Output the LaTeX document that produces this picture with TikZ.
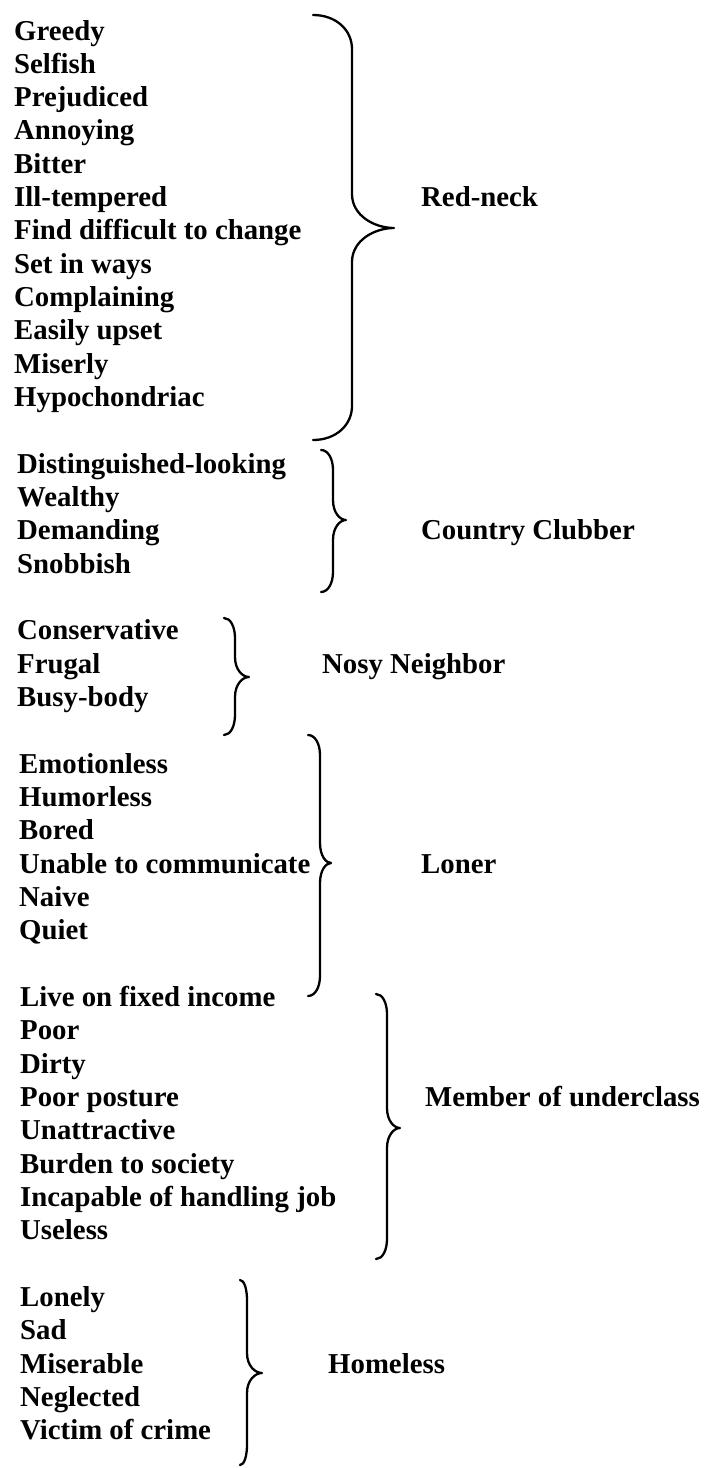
\documentclass[tikz,border=0pt]{standalone}
\usepackage{fontspec}
\setmainfont{Liberation Serif}
\newcommand\mybrace[7]{% xl xv xt ytop ytip ybot r
  \draw[bracestyle] (#1,#4) .. controls (#2-0.4*#2+0.4*#1,#4) and (#2,#4+0.45*#7) .. (#2,#4+#7)
    -- (#2,#5-#7) .. controls (#2,#5-0.35*#7) and (#3-0.45*#3+0.45*#2,#5) .. (#3,#5)
    .. controls (#3-0.45*#3+0.45*#2,#5) and (#2,#5+0.35*#7) .. (#2,#5+#7)
    -- (#2,#6-#7) .. controls (#2,#6-0.45*#7) and (#2-0.4*#2+0.4*#1,#6) .. (#1,#6);}
\begin{document}
\begin{tikzpicture}[x=1pt,y=-1pt,
  item/.style={anchor=base west,inner sep=0pt,font=\fontsize{28.8}{34}\selectfont\bfseries},
  label/.style={anchor=base west,inner sep=0pt,font=\fontsize{28.8}{34}\selectfont\bfseries},
  bracestyle/.style={line width=2.3pt,line cap=round,line join=round}]
\useasboundingbox (0,0) rectangle (704,1468);
% Group 1
\foreach \t [count=\i from 0] in {Greedy,Selfish,Prejudiced,Annoying,Bitter,Ill-tempered,Find difficult to change,Set in ways,Complaining,Easily upset,Miserly,Hypochondriac}
  \node[item] (ra\i) at (14,{40+33.33*\i}) {\t};
\foreach \t [count=\i from 0] in {Distinguished-looking,Wealthy,Demanding,Snobbish}
  \node[item] (cc\i) at (17,{40+33.33*(13+\i)}) {\t};
\foreach \t [count=\i from 0] in {Conservative,Frugal,Busy-body}
  \node[item] (nn\i) at (17,{40+33.33*(18+\i)}) {\t};
\foreach \t [count=\i from 0] in {Emotionless,Humorless,Bored,Unable to communicate,Naive,Quiet}
  \node[item] (lo\i) at (19,{40+33.33*(22+\i)}) {\t};
\foreach \t [count=\i from 0] in {Live on fixed income,Poor,Dirty,Poor posture,Unattractive,Burden to society,Incapable of handling job,Useless}
  \node[item] (mu\i) at (20,{40+33.33*(29+\i)}) {\t};
\foreach \t [count=\i from 0] in {Lonely,Sad,Miserable,Neglected,Victim of crime}
  \node[item] (ho\i) at (20,{40+33.33*(38+\i)}) {\t};
% Labels
\node[label] (lred) at (421,{40+33.33*5}) {Red-neck};
\node[label] (lcc) at (421,{40+33.33*15}) {Country Clubber};
\node[label] (lnn) at (322,{40+33.33*19}) {Nosy Neighbor};
\node[label] (llo) at (421,{40+33.33*25}) {Loner};
\node[label] (lmu) at (425,{40+33.33*32}) {Member of underclass};
\node[label] (lho) at (328,{40+33.33*40}) {Homeless};
% Braces
\mybrace{313}{352}{394}{15}{228}{440}{34}
\mybrace{321}{333}{346}{450}{520}{592}{20}
\mybrace{224}{235}{249}{618}{677}{735}{20}
\mybrace{308}{320}{331}{735}{863}{996}{20}
\mybrace{376}{387}{400}{994}{1128}{1259}{20}
\mybrace{240}{247}{262}{1280}{1373}{1465}{20}
\end{tikzpicture}
\end{document}
